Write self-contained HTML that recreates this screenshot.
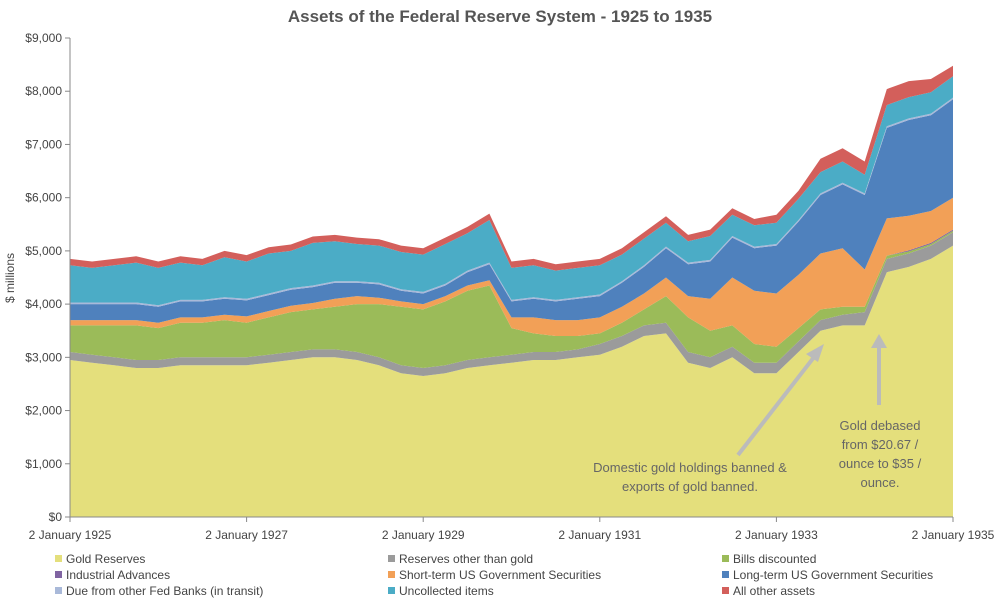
<!DOCTYPE html>
<html><head><meta charset="utf-8">
<style>
body{margin:0;background:#fff;width:1000px;height:604px;overflow:hidden;font-family:"Liberation Sans",sans-serif;}
svg{display:block}
</style></head>
<body>
<svg id="chart" width="1000" height="604">
<text x="500" y="22" text-anchor="middle" font-size="17" font-weight="bold" fill="#555">Assets of the Federal Reserve System - 1925 to 1935</text>
<text transform="translate(14,278) rotate(-90)" text-anchor="middle" font-size="12" fill="#444">$ millions</text>
<g id="areas"></g><g id="axes"></g><g id="legend"></g>
<g>
<line x1="738" y1="455" x2="818" y2="352" stroke="#bbb" stroke-width="4"/>
<polygon points="824,344 806,354 818,362" fill="#bbb"/>
<text x="690" y="472" text-anchor="middle" font-size="13" fill="#666">Domestic gold holdings banned &amp;</text>
<text x="690" y="491" text-anchor="middle" font-size="13" fill="#666">exports of gold banned.</text>
</g>
<g>
<line x1="879" y1="405" x2="879" y2="345" stroke="#bbb" stroke-width="4"/>
<polygon points="879,334 871,348 887,348" fill="#bbb"/>
<text x="880" y="430" text-anchor="middle" font-size="13" fill="#666">Gold debased</text>
<text x="880" y="449" text-anchor="middle" font-size="13" fill="#666">from $20.67 /</text>
<text x="880" y="468" text-anchor="middle" font-size="13" fill="#666">ounce to $35 /</text>
<text x="880" y="487" text-anchor="middle" font-size="13" fill="#666">ounce.</text>
</g>
</svg>
<script>
const years=[1925,1935];
const gold=[2950,2900,2850,2800,2800,2850,2850,2850,2850,2900,2950,3000,3000,2950,2850,2700,2650,2700,2800,2850,2900,2950,2950,3000,3050,3200,3400,3450,2900,2800,3000,2700,2700,3100,3500,3600,3600,4600,4700,4850,5100];
const otherReserves=[150,150,150,150,150,150,150,150,150,150,150,150,150,150,150,150,150,150,150,150,150,150,150,150,200,200,200,200,200,200,200,200,200,200,200,200,250,250,250,250,250];
const bills=[500,550,600,650,600,650,650,700,650,700,750,750,800,900,1000,1100,1100,1200,1300,1350,500,350,300,250,200,250,300,500,650,500,400,350,300,250,200,150,100,60,40,30,30];
const industrial=[0,0,0,0,0,0,0,0,0,0,0,0,0,0,0,0,0,0,0,0,0,0,0,0,0,0,0,0,0,0,0,0,0,0,0,0,0,0,20,20,20];
const shortTerm=[100,100,100,100,100,100,100,100,120,120,120,120,150,150,120,100,100,100,100,100,200,300,300,300,300,300,300,350,400,600,900,1000,1000,1000,1050,1100,700,700,650,600,600];
const longTerm=[300,300,300,300,300,300,300,300,300,300,300,300,300,250,250,200,200,200,250,300,300,350,350,400,400,450,500,550,600,700,750,800,900,1000,1100,1200,1400,1700,1800,1800,1850];
const dueFrom=[30,30,30,30,30,30,30,30,30,30,30,30,30,30,30,30,30,30,30,30,30,30,30,30,30,30,30,30,30,30,30,30,30,30,30,30,30,30,30,30,30];
const uncollected=[700,650,700,750,700,700,650,750,700,750,700,800,750,700,700,700,700,750,700,800,600,600,550,550,550,500,500,450,400,450,400,400,400,400,400,400,350,400,400,400,400];
const otherAssets=[120,120,120,120,120,120,120,120,120,120,120,120,120,120,120,120,120,120,120,120,120,120,120,120,120,120,120,120,120,120,120,120,150,150,250,250,250,300,300,250,200];
const seriesNames=["Gold Reserves","Reserves other than gold","Bills discounted","Industrial Advances","Short-term US Government Securities","Long-term US Government Securities","Due from other Fed Banks (in transit)","Uncollected items","All other assets"];
const seriesColors=["#e4df7c","#9b9b9b","#9bbb59","#8064a2","#f2a057","#4f81bd","#a9b9d9","#4bacc6","#d35f5b"];
const seriesData=[gold,otherReserves,bills,industrial,shortTerm,longTerm,dueFrom,uncollected,otherAssets];
const yTicks=[0,1000,2000,3000,4000,5000,6000,7000,8000,9000];
const xTickLabels=["2 January 1925","2 January 1927","2 January 1929","2 January 1931","2 January 1933","2 January 1935"];
const xTickYears=[1925,1927,1929,1931,1933,1935];
const NS="http://www.w3.org/2000/svg";
const X0=70,X1=953,Y0=517,Y1=38;
const xs=t=>X0+(t-years[0])/(years[1]-years[0])*(X1-X0);
const ys=v=>Y0-v/9000*(Y0-Y1);
const tOf=i=>years[0]+i*(years[1]-years[0])/(gold.length-1);
const areas=document.getElementById('areas');
let base=gold.map(()=>0);
seriesData.forEach((s,k)=>{
  const top=s.map((v,i)=>base[i]+v);
  let d="M"+top.map((v,i)=>xs(tOf(i)).toFixed(1)+","+ys(v).toFixed(1)).join("L");
  for(let i=base.length-1;i>=0;i--) d+="L"+xs(tOf(i)).toFixed(1)+","+ys(base[i]).toFixed(1);
  const p=document.createElementNS(NS,'path');
  p.setAttribute('d',d+"Z");p.setAttribute('fill',seriesColors[k]);
  
  
  areas.appendChild(p);base=top;
});
const axes=document.getElementById('axes');
function el(tag,attrs,txt){const e=document.createElementNS(NS,tag);for(const k in attrs)e.setAttribute(k,attrs[k]);if(txt!==undefined)e.textContent=txt;axes.appendChild(e);return e;}
const ya=el('line',{x1:X0,y1:Y1,x2:X0,y2:Y0,stroke:'#888'});

const xa=el('line',{x1:X0,y1:Y0,x2:X1,y2:Y0,stroke:'#888'});

yTicks.forEach(v=>{
  el('line',{x1:X0-5,y1:ys(v),x2:X0,y2:ys(v),stroke:'#888'});
  const t=el('text',{x:X0-8,y:ys(v)+4,'text-anchor':'end','font-size':12,fill:'#444'},'$'+v.toLocaleString('en-US'));
  
});
xTickYears.forEach((yr,i)=>{
  el('line',{x1:xs(yr),y1:Y0,x2:xs(yr),y2:Y0+5,stroke:'#888'});
  const t=el('text',{x:xs(yr),y:Y0+22,'text-anchor':'middle','font-size':12,fill:'#444'},xTickLabels[i]);
  
});
const lg=document.getElementById('legend');
const lx=[55,388,722],ly=[563,579,595];
seriesNames.forEach((n,k)=>{
  const g=document.createElementNS(NS,'g');
  
  
  const cx=lx[k%3],cy=ly[Math.floor(k/3)];
  const r=document.createElementNS(NS,'rect');
  r.setAttribute('x',cx);r.setAttribute('y',cy-8);r.setAttribute('width',7);r.setAttribute('height',7);r.setAttribute('fill',seriesColors[k]);
  const t=document.createElementNS(NS,'text');
  t.setAttribute('x',cx+11);t.setAttribute('y',cy);t.setAttribute('font-size',12);t.setAttribute('fill','#444');t.textContent=n;
  g.appendChild(r);g.appendChild(t);lg.appendChild(g);
});
</script>
</body></html>
